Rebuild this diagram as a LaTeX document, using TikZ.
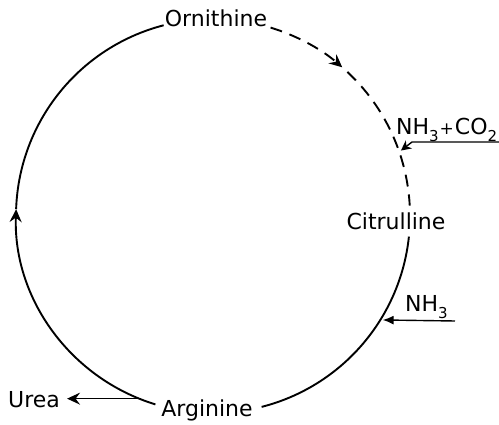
\documentclass[tikz,border=0pt]{standalone}
\usepackage{fontspec}
\setmainfont{DejaVu Sans}
\usetikzlibrary{arrows.meta,calc}
% lowered index digit for the chemical formulas
\newcommand\lowidx[1]{\raisebox{-0.30em}{\fontsize{15}{15}\selectfont #1}}
\newcommand\smallplus{{\fontsize{17}{17}\selectfont +}}

\begin{document}
\begin{tikzpicture}[x=1pt,y=-1pt,
  cyc/.style={line width=1.9pt},
  dashcyc/.style={line width=1.9pt, dash pattern=on 12pt off 8pt},
  feed/.style={line width=1.4pt},
  tip/.style={-{Stealth[length=13pt,width=12pt,inset=4.5pt]}},
  smalltip/.style={-{Stealth[length=10pt,width=10pt,inset=3pt]}},
  lbl/.style={font=\fontsize{22}{22}\selectfont, inner sep=0pt}]
\useasboundingbox (0,0) rectangle (499,425);
\coordinate (c) at (213,216);
\def\R{197}

% metabolites on the cycle
\node[lbl, anchor=base] (orn) at (216,27) {Ornithine};
\node[lbl, anchor=base] (cit) at (396,230) {Citrulline};
\node[lbl, anchor=base] (arg) at (207,417) {Arginine};
% side products and inputs
\node[lbl, anchor=base west] (urea) at (8,407) {Urea};
\node[lbl, anchor=base west] (nhco) at (396,135) {NH\lowidx{3}\kern1pt\smallplus\kern1pt CO\lowidx{2}};
\node[lbl, anchor=base west] (nh) at (405,312) {NH\lowidx{3}};

% Arginine -> Ornithine (left side)
\draw[cyc, tip] ($(c)+(107:\R)$) arc[start angle=107, end angle=182, radius=\R];
\draw[cyc] ($(c)+(182:\R)$) arc[start angle=182, end angle=255.5, radius=\R];
% Ornithine -> Citrulline (dashed)
\draw[dashcyc, tip] ($(c)+(287:\R)$) arc[start angle=287, end angle=311, radius=\R];
\draw[dashcyc] ($(c)+(313:\R)$) arc[start angle=313, end angle=357, radius=\R];
% Citrulline -> Arginine
\draw[cyc] ($(c)+(6:\R)$) arc[start angle=6, end angle=75.7, radius=\R];

% junction points on the cycle
\coordinate (jco) at ($(c)+(340.8:199)$);
\coordinate (jnh) at ($(c)+(31.5:199)$);
\coordinate (jurea) at ($(c)+(112:\R)$);
\coordinate (co2src) at (499,142);
\coordinate (nhsrc) at (455,321);

% inputs
\draw[feed, smalltip] (co2src) -- (412,142) -- (jco);
\draw[feed, -{Latex[length=11pt,width=9pt]}] (nhsrc) -- (jnh);
% output
\draw[feed, tip] (jurea) -- ([xshift=7pt]urea.east |- jurea);
\end{tikzpicture}
\end{document}
